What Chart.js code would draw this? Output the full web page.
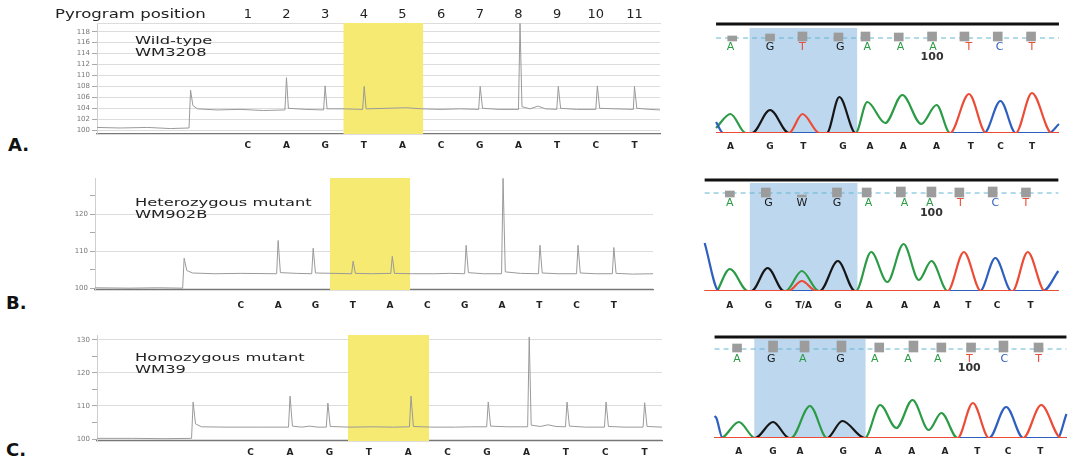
<!DOCTYPE html>
<html>
<head>
<meta charset="utf-8">
<title>Pyrosequencing vs Sanger sequencing</title>
<script src="https://cdn.jsdelivr.net/npm/chart.js@4.4.1/dist/chart.umd.min.js"></script>
<style>
  body { margin: 0; background: #fff; font-family: "DejaVu Sans", sans-serif; }
  #fig { position: relative; width: 1086px; height: 461px; overflow: hidden; }
  .box { position: absolute; }
  .txt { position: absolute; color: #222; white-space: nowrap; transform-origin: left top; }
  .note { font-size: 11px; line-height: 12px; transform: scaleX(1.48); }
  .panel { font-size: 18px; line-height: 18px; font-weight: bold; color: #111; }
</style>
</head>
<body>
<div id="fig">
  <div class="box" style="left:55px;top:1px;width:609px;height:153px"><canvas id="pyroA"></canvas></div>
  <div class="box" style="left:53px;top:170px;width:604px;height:140px"><canvas id="pyroB"></canvas></div>
  <div class="box" style="left:55px;top:327px;width:611px;height:134px"><canvas id="pyroC"></canvas></div>
  <div class="box" style="left:697px;top:19px;width:381px;height:136px"><canvas id="seqA"></canvas></div>
  <div class="box" style="left:685px;top:175px;width:393px;height:138px"><canvas id="seqB"></canvas></div>
  <div class="box" style="left:695px;top:332px;width:391px;height:128px"><canvas id="seqC"></canvas></div>

  <div class="txt" style="left:55px;top:8px;font-size:12px;line-height:12px;transform:scaleX(1.38)">Pyrogram position</div>
  <div class="txt note" style="left:135px;top:35px">Wild-type<br>WM3208</div>
  <div class="txt note" style="left:135px;top:197px">Heterozygous mutant<br>WM902B</div>
  <div class="txt note" style="left:135px;top:352px">Homozygous mutant<br>WM39</div>
  <div class="txt panel" style="left:8px;top:136px">A.</div>
  <div class="txt panel" style="left:6px;top:294px">B.</div>
  <div class="txt panel" style="left:6px;top:441px">C.</div>
</div>

<script>
// dispensation order (bottom letters) and pyrogram position numbers
const dispensed = ['C', 'A', 'G', 'T', 'A', 'C', 'G', 'A', 'T', 'C', 'T'];
const positions = [1, 2, 3, 4, 5, 6, 7, 8, 9, 10, 11];

// pyrogram traces: [dispensation position, light signal]
const pyroA = [[-2.9,100.5],[-2.3,100.4],[-1.6,100.5],[-1.0,100.3],[-0.52,100.4],[-0.48,107.3],[-0.42,104.5],[-0.3,103.9],[0.2,103.7],[0.8,103.8],[1.4,103.6],[1.96,103.7],[2.0,109.6],[2.05,104.0],[2.5,103.8],[2.96,103.7],[3.0,108.1],[3.05,103.9],[3.5,103.9],[3.97,103.8],[4.01,108.0],[4.06,103.9],[4.6,104.0],[5.1,104.1],[5.5,103.9],[6.0,103.8],[6.5,103.9],[6.97,103.8],[7.01,108.0],[7.07,104.0],[7.5,103.8],[8.0,103.8],[8.04,119.5],[8.09,104.3],[8.3,103.9],[8.5,104.4],[8.7,103.9],[8.99,103.8],[9.03,108.0],[9.09,104.0],[9.5,103.8],[10.0,103.8],[10.04,108.1],[10.1,104.0],[10.5,103.9],[10.97,103.8],[11.0,108.0],[11.06,104.0],[11.4,103.8],[11.66,103.7]];
const pyroB = [[-2.91,100.1],[-2.0,100.0],[-1.2,100.1],[-0.56,100.0],[-0.52,108.1],[-0.45,104.8],[-0.3,104.1],[0.3,103.9],[1.0,104.0],[1.96,103.9],[2.0,112.9],[2.06,104.2],[2.5,104.0],[2.9,103.9],[2.94,110.8],[3.0,104.1],[3.5,104.0],[3.97,103.9],[4.01,107.3],[4.07,104.0],[4.5,103.9],[5.02,104.0],[5.06,108.6],[5.12,104.0],[5.6,103.9],[6.2,103.9],[6.6,104.0],[7.0,103.9],[7.04,111.6],[7.1,104.2],[7.5,103.9],[7.99,103.9],[8.03,129.7],[8.09,104.4],[8.5,104.0],[8.98,103.9],[9.02,111.6],[9.08,104.1],[9.5,103.9],[10.0,103.9],[10.04,111.6],[10.1,104.1],[10.5,103.9],[10.96,103.9],[11.0,111.0],[11.06,104.0],[11.5,103.8],[12.05,103.9]];
const pyroC = [[-2.9,100.2],[-2.0,100.2],[-1.2,100.1],[-0.5,100.2],[-0.46,111.2],[-0.40,104.6],[-0.25,103.7],[0.4,103.6],[1.2,103.6],[1.96,103.6],[2.0,113.0],[2.06,103.9],[2.3,103.6],[2.5,103.9],[2.7,103.6],[2.92,103.6],[2.96,110.9],[3.02,103.8],[3.5,103.6],[4.1,103.7],[4.6,103.6],[5.03,103.7],[5.07,113.0],[5.13,103.8],[5.6,103.6],[6.2,103.6],[6.6,103.7],[6.99,103.7],[7.03,111.2],[7.09,103.9],[7.5,103.7],[8.03,103.7],[8.07,130.9],[8.12,104.2],[8.35,103.8],[8.55,104.3],[8.75,103.8],[8.99,103.7],[9.03,111.2],[9.09,103.9],[9.5,103.6],[9.98,103.6],[10.02,111.2],[10.08,103.8],[10.5,103.6],[10.96,103.6],[11.0,111.0],[11.06,103.8],[11.44,103.6]];

// pyrogram y ticks and highlighted dispensations
const ticksA = [100, 102, 104, 106, 108, 110, 112, 114, 116, 118];
const ticksB = [100, 105, 110, 115, 120, 125];
const ticksC = [100, 105, 110, 115, 120, 125, 130];
const markA = [3.47, 5.54];
const markB = [3.39, 5.54];
const markC = [3.47, 5.53];

// sequencing traces: [scan, signal]
const aGreen = [[0,5],[16,19],[33,0],[155,0],[168,31],[188,10],[207,38],[228,9],[245,28],[260,0],[381,0]];
const aBlack = [[0,0],[40,0],[60,23],[81,0],[123,0],[137,36],[155,0],[381,0]];
const aRed = [[0,0],[81,0],[96,19],[115,0],[260,0],[281,39],[300,0],[333,0],[351,40],[373,0],[381,0]];
const aBlue = [[0,11],[8,0],[298,0],[316,32],[333,0],[370,0],[381,9]];

const bGreen = [[2,0],[16,22],[36,0],[78,0],[96,20],[115,0],[156,0],[173,39],[191,9],[209,47],[226,11],[240,30],[258,0],[381,0]];
const bBlack = [[-12,0],[40,0],[58,23],[76,0],[116,0],[136,30],[155,0],[381,0]];
const bRed = [[-12,0],[81,0],[96,10],[112,0],[258,0],[276,39],[295,0],[330,0],[347,39],[366,0],[381,0]];
const bBlue = [[-12,48],[4,0],[294,0],[311,33],[329,0],[364,0],[381,20]];

const cGreen = [[-2,0],[5,0],[25,16],[43,0],[83,0],[104,32],[123,0],[165,0],[182,33],[200,10],[218,38],[236,8],[250,25],[268,0],[389,0]];
const cBlack = [[-2,0],[43,0],[63,16],[81,0],[123,0],[140,17],[165,0],[389,0]];
const cRed = [[-2,0],[268,0],[285,35],[303,0],[341,0],[361,33],[383,0],[389,0]];
const cBlue = [[-2,22],[0,20],[7,0],[303,0],[322,31],[341,0],[379,0],[389,24]];

// base calls (top), quality bars, read letters (bottom)
const callsA = ['A','G','T','G','A','A','A','T','C','T'];
const callPosA = [16, 60, 96, 138, 168, 205, 241, 281, 315, 351];
const callsB = ['A','G','W','G','A','A','A','T','C','T'];
const callPosB = [16, 59, 96, 135, 170, 210, 238, 272, 311, 345];
const callsC = ['A','G','A','G','A','A','A','T','C','T'];
const callPosC = [23, 61, 96, 138, 176, 213, 246, 281, 320, 358];

const qualPosA = [18, 60, 96, 136, 166, 203, 240, 276, 313, 350];
const qualA = [[92,97],[92,99],[92,101],[92,100],[92,101],[92,100],[92,101],[92,101],[92,101],[92,101]];
const qualPosB = [16, 56, 96, 135, 168, 206, 240, 271, 308, 345];
const qualB = [[94,100],[94,103],[94,96],[94,103],[94,103],[94,104],[94,104],[94,103],[94,104],[94,103]];
const qualPosC = [23, 63, 98, 139, 181, 219, 250, 283, 319, 358];
const qualC = [[86,94],[86,97],[86,97],[86,97],[86,95],[86,97],[86,95],[86,95],[86,97],[86,95]];

const readA = ['A','G','T','G','A','A','A','T','C','T'];
const readPosA = [16, 60, 97, 141, 171, 208, 245, 283, 316, 351];
const readB = ['A','G','T/A','G','A','A','A','T','C','T'];
const readPosB = [16, 59, 98, 136, 171, 210, 246, 281, 313, 350];
const readC = ['A','G','A','G','A','A','A','T','C','T'];
const readPosC = [25, 63, 93, 141, 180, 217, 254, 290, 324, 360];

const boxA = [37, 157];
const boxB = [38, 158];
const boxC = [42, 166];

Chart.defaults.font.family = '"DejaVu Sans", sans-serif';
Chart.defaults.animation = false;

const baseColor = { A: '#2b9b46', G: '#161616', T: '#ec4b36', C: '#2e5fbf', W: '#161616' };

function pts(arr) {
  return arr.map(p => ({ x: p[0], y: p[1] }));
}

function pyroChart(id, trace, ticks, major, yRange, xRange, mark, o) {
  const scales = {
    x: {
      type: 'linear', min: xRange[0], max: xRange[1],
      afterBuildTicks: s => { s.ticks = positions.map(v => ({ value: v })); },
      afterFit: s => { s.height = 20; },
      ticks: {
        autoSkip: false, maxRotation: 0, padding: o.letterPad, color: '#222',
        font: { size: 9, weight: 'bold' },
        callback: (v, i) => dispensed[i]
      },
      grid: { display: false, drawTicks: false },
      border: { color: '#777', width: 1.2 }
    },
    y: {
      min: yRange[0], max: yRange[1],
      afterBuildTicks: s => { s.ticks = ticks.map(v => ({ value: v })); },
      afterFit: s => { s.width = 42; },
      ticks: {
        autoSkip: false, padding: 2, color: '#777', font: { size: 7 },
        callback: v => (v % major === 0 ? v : '')
      },
      grid: {
        color: c => (c.tick && c.tick.value % major === 0 ? '#dcdcdc' : 'rgba(0,0,0,0)'),
        tickColor: '#aaa', tickLength: 5
      },
      border: { color: '#cfcfcf' }
    }
  };
  if (o.top) {
    scales.xTop = {
      type: 'linear', position: 'top', min: xRange[0], max: xRange[1],
      afterBuildTicks: s => { s.ticks = positions.map(v => ({ value: v })); },
      afterFit: s => { s.height = 22; },
      ticks: {
        autoSkip: false, maxRotation: 0, padding: 1, color: '#222',
        font: { size: 13 },
        callback: (v, i) => String(positions[i])
      },
      grid: { display: false, drawTicks: false },
      border: { color: '#dcdcdc' }
    };
  }
  new Chart(document.getElementById(id), {
    type: 'line',
    data: {
      datasets: [
        {
          data: trace.map(p => ({ x: p[0], y: p[1] })),
          borderColor: '#9a9a9a', borderWidth: 1, pointRadius: 0, tension: 0, order: 0
        },
        {
          data: mark.map(x => ({ x, y: yRange[1] })),
          fill: 'start', backgroundColor: '#f6ea72', borderWidth: 0, pointRadius: 0, order: 5
        }
      ]
    },
    options: {
      responsive: true, maintainAspectRatio: false,
      layout: { padding: { top: o.padTop, right: 4, left: 0, bottom: 0 } },
      plugins: { legend: { display: false }, tooltip: { enabled: false } },
      scales
    }
  });
}

// draws the called bases above the traces and the "100" base number
const callText = {
  id: 'callText',
  afterDatasetsDraw(chart, args, opts) {
    const { ctx, scales: { x, y } } = chart;
    ctx.save();
    ctx.textAlign = 'center';
    ctx.textBaseline = 'middle';
    ctx.font = '11px "DejaVu Sans"';
    opts.calls.forEach((b, i) => {
      ctx.fillStyle = baseColor[b];
      ctx.fillText(b, x.getPixelForValue(opts.pos[i]), y.getPixelForValue(opts.level));
    });
    ctx.fillStyle = '#333';
    ctx.font = 'bold 11px "DejaVu Sans"';
    ctx.fillText('100', x.getPixelForValue(opts.num[0]), y.getPixelForValue(opts.num[1]));
    ctx.restore();
  }
};

function seqChart(id, c) {
  const traces = [[c.green, baseColor.A], [c.black, baseColor.G], [c.blue, baseColor.C], [c.red, baseColor.T]];
  const datasets = [
    { data: c.box.map(x => ({ x, y: c.boxTop })), fill: 'start', backgroundColor: '#bdd7ef', borderWidth: 0, pointRadius: 0, order: 10 },
    { data: [{ x: c.xr[0], y: c.rule }, { x: c.xr[1], y: c.rule }], borderColor: '#111', borderWidth: 3, pointRadius: 0, order: 9 },
    { data: [{ x: c.xr[0], y: c.dash }, { x: c.xr[1], y: c.dash }], borderColor: '#62b6cf', borderWidth: 1, borderDash: [5, 4], pointRadius: 0, order: 8 },
    { type: 'bar', data: c.qualPos.map((x, i) => ({ x, y: c.qual[i] })), backgroundColor: '#9c9c9c', barThickness: 9, order: 7 }
  ];
  traces.forEach(([arr, col], k) => {
    datasets.push({
      data: pts(arr), borderColor: col, borderWidth: 2.2, pointRadius: 0,
      cubicInterpolationMode: 'monotone', order: 3 - k
    });
  });
  new Chart(document.getElementById(id), {
    type: 'line',
    data: { datasets },
    options: {
      responsive: true, maintainAspectRatio: false,
      layout: { padding: { top: 2, right: 0, left: 0, bottom: 0 } },
      plugins: {
        legend: { display: false }, tooltip: { enabled: false },
        callText: { calls: c.calls, pos: c.callPos, level: c.callY, num: c.num }
      },
      scales: {
        x: {
          type: 'linear', min: c.xr[0], max: c.xr[1],
          afterBuildTicks: s => { s.ticks = c.readPos.map(v => ({ value: v })); },
          afterFit: s => { s.height = 22; },
          ticks: {
            autoSkip: false, maxRotation: 0, padding: c.readPad, color: '#222',
            font: { size: 9, weight: 'bold' },
            callback: (v, i) => c.read[i]
          },
          grid: { display: false, drawTicks: false },
          border: { display: false }
        },
        y: { display: false, min: 0, max: c.yMax }
      }
    },
    plugins: [callText]
  });
}

pyroChart('pyroA', pyroA, ticksA, 2, [99.3, 119.6], [-2.9, 11.66], markA, { top: true, padTop: 0, letterPad: 6 });
pyroChart('pyroB', pyroB, ticksB, 10, [99.5, 129.8], [-2.91, 12.05], markB, { top: false, padTop: 8, letterPad: 10 });
pyroChart('pyroC', pyroC, ticksC, 10, [99.4, 131.5], [-2.9, 11.44], markC, { top: false, padTop: 8, letterPad: 6 });

seqChart('seqA', {
  green: aGreen, black: aBlack, red: aRed, blue: aBlue,
  xr: [0, 381], yMax: 112, rule: 109, boxTop: 105, dash: 95, box: boxA,
  qualPos: qualPosA, qual: qualA, calls: callsA, callPos: callPosA, callY: 86, num: [240, 76],
  read: readA, readPos: readPosA, readPad: 8
});
seqChart('seqB', {
  green: bGreen, black: bBlack, red: bRed, blue: bBlue,
  xr: [-12, 381], yMax: 114, rule: 111, boxTop: 108, dash: 98, box: boxB,
  qualPos: qualPosB, qual: qualB, calls: callsB, callPos: callPosB, callY: 88, num: [240, 78],
  read: readB, readPos: readPosB, readPad: 9
});
seqChart('seqC', {
  green: cGreen, black: cBlack, red: cRed, blue: cBlue,
  xr: [-2, 389], yMax: 104, rule: 101, boxTop: 99, dash: 89, box: boxC,
  qualPos: qualPosC, qual: qualC, calls: callsC, callPos: callPosC, callY: 79, num: [281, 70],
  read: readC, readPos: readPosC, readPad: 8
});
</script>
</body>
</html>
